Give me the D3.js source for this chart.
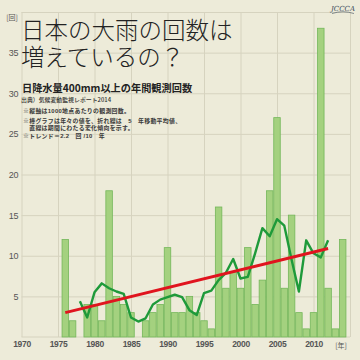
<!DOCTYPE html>
<html lang="ja">
<head>
<meta charset="utf-8">
<script src="https://cdn.jsdelivr.net/npm/d3@7"></script>
<style>
  html, body { margin: 0; padding: 0; background: #EDEBD9; }
  svg { display: block; }
  .jp { font-family: "Noto Sans CJK JP", sans-serif; }
  .jpt { font-family: "Liberation Sans", "Noto Sans CJK JP", sans-serif; }
</style>
</head>
<body>
<svg id="chart" width="360" height="360" lang="ja"></svg>
<script>
// ---- data ----
const years = [1976,1977,1978,1979,1980,1981,1982,1983,1984,1985,1986,1987,1988,1989,1990,
  1991,1992,1993,1994,1995,1996,1997,1998,1999,2000,2001,2002,2003,2004,2005,
  2006,2007,2008,2009,2010,2011,2012,2013,2014];
const counts = [12,2,0,4,4,2,18,5,4,3,0,2,3,4,11,
  3,3,5,3,2,1,16,6,8,6,11,4,7,18,27,
  6,15,3,1,3,38,6,1,12];
const maYears = [1978,1979,1980,1981,1982,1983,1984,1985,1986,1987,1988,1989,1990,1991,1992,
  1993,1994,1995,1996,1997,1998,1999,2000,2001,2002,2003,2004,2005,2006,2007,
  2008,2009,2010,2011,2012];
const movingAvg = [4.4,2.4,5.5,6.6,6.0,5.6,5.3,2.4,1.9,2.3,4.0,4.6,4.9,5.2,4.9,
  3.3,2.7,5.4,5.7,7.0,7.9,9.6,7.2,7.4,10.3,13.4,12.4,14.5,13.7,9.5,
  5.6,11.9,10.3,9.8,11.9];
const trendYears = [1976, 2012];
const trendValues = [3.0, 10.9];
const xTickYears = [1970,1975,1980,1985,1990,1995,2000,2005,2010];
const yTickValues = [5,10,15,20,25,30,35];
const titleLines = ["日本の大雨の回数は", "増えているの？"];
const subtitle = "日降水量400mm以上の年間観測回数";
const source = "出典）気候変動監視レポート2014";
const notes = ["※縦軸は1000地点あたりの観測回数。",
  "※棒グラフは年々の値を、折れ線は　5　年移動平均値、",
  "　直線は期間にわたる変化傾向を示す。",
  "※トレンド＝2.2　回 /10　年"];

// ---- chart ----
const svg = d3.select("#chart");
svg.append("rect").attr("width", 360).attr("height", 360).attr("fill", "#EDEBD9");

const x = d3.scaleLinear().domain([1970, 2015]).range([21.5, 350]);
const y = d3.scaleLinear().domain([0, 40]).range([337, 12]);

// grid
const gridY = svg.append("g").attr("transform", `translate(${x(1970)},0)`)
  .call(d3.axisLeft(y).tickValues(d3.range(5, 41, 5)).tickSize(-(x(2015) - x(1970))).tickFormat(""));
gridY.select(".domain").remove();
gridY.selectAll("line").attr("stroke", "#D6D3BF").attr("stroke-width", 1);

const gridX = svg.append("g").attr("transform", `translate(0,${y(0)})`)
  .call(d3.axisBottom(x).tickValues(d3.range(1970, 2016, 5)).tickSize(-(y(0) - y(40))).tickFormat(""));
gridX.select(".domain").remove();
gridX.selectAll("line").attr("stroke", "#D6D3BF").attr("stroke-width", 1);

svg.append("line").attr("x1", x(1970)).attr("x2", x(2015)).attr("y1", y(0)).attr("y2", y(0))
  .attr("stroke", "#D6D3BF").attr("stroke-width", 1);

// bars
const bw = x(1971) - x(1970);
svg.append("g").selectAll("rect")
  .data(years.map((yr, i) => ({yr, v: counts[i]})).filter(d => d.v > 0))
  .join("rect")
  .attr("x", d => x(d.yr - 0.5) + 0.4)
  .attr("width", bw - 0.8)
  .attr("y", d => y(d.v))
  .attr("height", d => y(0) - y(d.v))
  .attr("fill", "#A4D17F")
  .attr("stroke", "#74B75A")
  .attr("stroke-width", 0.8);

// moving average line
const line = d3.line().x(d => x(d[0])).y(d => y(d[1]));
svg.append("path")
  .datum(maYears.map((yr, i) => [yr, movingAvg[i]]))
  .attr("d", line)
  .attr("fill", "none")
  .attr("stroke", "#1E9A3A")
  .attr("stroke-width", 2.4)
  .attr("stroke-linejoin", "round");

// trend line
svg.append("path")
  .datum(trendYears.map((yr, i) => [yr, trendValues[i]]))
  .attr("d", line)
  .attr("fill", "none")
  .attr("stroke", "#E0141E")
  .attr("stroke-width", 3);

// y labels
const yAx = svg.append("g").attr("transform", `translate(18,0)`)
  .call(d3.axisLeft(y).tickValues(yTickValues).tickSize(0).tickPadding(0));
yAx.select(".domain").remove();
yAx.selectAll("text").attr("font-size", 9).attr("fill", "#555")
  .attr("font-family", "Liberation Sans, Arial, sans-serif").attr("letter-spacing", -0.4);

// x labels
const xAx = svg.append("g").attr("transform", `translate(0,338)`)
  .call(d3.axisBottom(x).tickValues(xTickYears).tickSize(0).tickPadding(3).tickFormat(d3.format("d")));
xAx.select(".domain").remove();
xAx.selectAll("text").attr("font-size", 8.5).attr("fill", "#555").attr("font-weight", "bold")
  .attr("font-family", "Liberation Sans, Arial, sans-serif").attr("letter-spacing", -0.3);

svg.append("text").attr("class", "jp").attr("x", 341).attr("y", 347.5)
  .attr("text-anchor", "middle").attr("font-size", 7).attr("fill", "#555").text("[年]");
svg.append("text").attr("class", "jp").attr("x", 12).attr("y", 19.5)
  .attr("text-anchor", "middle").attr("font-size", 7).attr("fill", "#555").text("[回]");

// title
svg.append("g").selectAll("text").data(titleLines).join("text")
  .attr("class", "jpt")
  .attr("x", 21).attr("y", (d, i) => 39 + i * 27)
  .attr("font-size", 23.5).attr("font-weight", 300).attr("fill", "#222")
  .text(d => d);

svg.append("text").attr("class", "jp").attr("x", 22).attr("y", 92)
  .attr("font-size", 10.2).attr("font-weight", "bold").attr("fill", "#222").text(subtitle);

svg.append("text").attr("class", "jp").attr("x", 21).attr("y", 101.5)
  .attr("font-size", 5.9).attr("font-weight", 500).attr("fill", "#333").text(source);

svg.append("g").selectAll("text").data(notes).join("text")
  .attr("class", "jpt")
  .attr("x", 23).attr("y", (d, i) => [113, 122.5, 129.8, 138][i])
  .attr("font-size", 5.9).attr("font-weight", "bold").attr("fill", "#383838")
  .attr("letter-spacing", 0.3)
  .text(d => d);

// logo
const logo = svg.append("g").attr("transform", "translate(343,11)");
logo.append("text").attr("x", 0).attr("y", 0).attr("text-anchor", "middle")
  .attr("font-family", "DejaVu Serif, serif").attr("font-size", 7).attr("fill", "#3a4a5a")
  .attr("font-style", "italic").text("JCCCA");
logo.append("path").attr("d", "M-11,2.5 Q0,-1 11,2.5").attr("fill", "none")
  .attr("stroke", "#3a4a5a").attr("stroke-width", 0.6);
</script>
</body>
</html>
